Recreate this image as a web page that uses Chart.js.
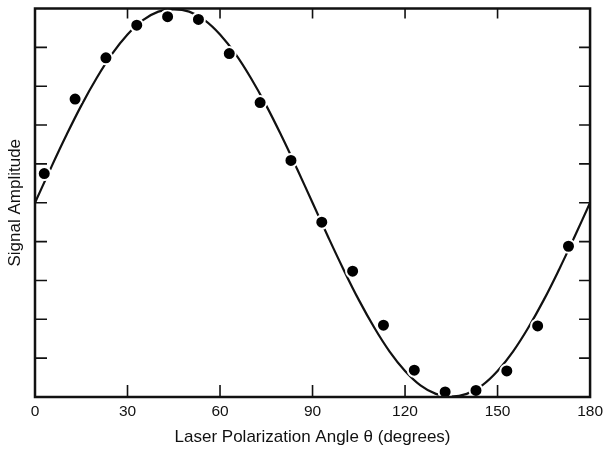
<!DOCTYPE html>
<html>
<head>
<meta charset="utf-8">
<script src="https://cdn.jsdelivr.net/npm/chart.js@4.4.1/dist/chart.umd.min.js"></script>
<style>
html,body{margin:0;padding:0;background:#fff;}
#c{display:block;}
</style>
</head>
<body>
<canvas id="c" width="608" height="451"></canvas>
<script>
// Measured data points (angle in degrees, signal amplitude in arbitrary units 0-10)
const pointAngles = [3, 13, 23, 33, 43, 53, 63, 73, 83, 93, 103, 113, 123, 133, 143, 153, 163, 173];
const pointValues = [5.75, 7.67, 8.73, 9.57, 9.79, 9.72, 8.84, 7.58, 6.09, 4.50, 3.24, 1.85, 0.69, 0.13, 0.17, 0.67, 1.83, 3.88];

// Fitted curve
const curveAngles = [0, 5, 10, 15, 20, 25, 30, 35, 40, 45, 50, 55, 60, 65, 70, 75, 80, 85, 90,
  95, 100, 105, 110, 115, 120, 125, 130, 135, 140, 145, 150, 155, 160, 165, 170, 175, 180];
const curveValues = [5.00, 5.87, 6.71, 7.50, 8.21, 8.83, 9.33, 9.70, 9.92, 9.98, 9.92, 9.70, 9.33, 8.83, 8.21, 7.50, 6.71, 5.87, 5.00,
  4.13, 3.29, 2.50, 1.79, 1.17, 0.67, 0.30, 0.08, 0.01, 0.08, 0.30, 0.67, 1.17, 1.79, 2.50, 3.29, 4.13, 5.00];

const xTicks = [0, 30, 60, 90, 120, 150, 180];
const yTicks = [0, 1, 2, 3, 4, 5, 6, 7, 8, 9, 10];

const xTitle = 'Laser Polarization Angle θ (degrees)';
const yTitle = 'Signal Amplitude';

const FONT = 'Liberation Sans, Arial, sans-serif';

const framePlugin = {
  id: 'frame',
  afterDatasetsDraw(chart) {
    const ctx = chart.ctx;
    const a = chart.chartArea;
    const xs = chart.scales.x, ys = chart.scales.y;
    ctx.save();
    ctx.strokeStyle = '#111';
    ctx.lineWidth = 2.5;
    ctx.strokeRect(a.left, a.top, a.right - a.left, a.bottom - a.top);
    ctx.lineWidth = 1.6;
    ctx.beginPath();
    xTicks.slice(1, -1).forEach(v => {
      const px = xs.getPixelForValue(v);
      ctx.moveTo(px, a.bottom); ctx.lineTo(px, a.bottom - 12);
      ctx.moveTo(px, a.top); ctx.lineTo(px, a.top + 10);
    });
    yTicks.slice(1, -1).forEach(v => {
      const py = ys.getPixelForValue(v);
      ctx.moveTo(a.left, py); ctx.lineTo(a.left + 12, py);
      ctx.moveTo(a.right, py); ctx.lineTo(a.right - 11, py);
    });
    ctx.stroke();
    ctx.restore();
  }
};

new Chart(document.getElementById('c'), {
  type: 'scatter',
  data: {
    datasets: [
      {
        label: 'Fit',
        data: curveAngles.map((x, i) => ({x, y: curveValues[i]})),
        showLine: true,
        borderColor: '#111',
        borderWidth: 2.2,
        pointRadius: 0,
        tension: 0.4,
        clip: false,
        order: 2
      },
      {
        label: 'Data',
        data: pointAngles.map((x, i) => ({x, y: pointValues[i]})),
        showLine: false,
        backgroundColor: '#000',
        borderColor: '#fff',
        borderWidth: 2,
        pointRadius: 6.5,
        clip: false,
        order: 1
      }
    ]
  },
  options: {
    responsive: false,
    animation: false,
    layout: { padding: { top: 7, right: 16, left: 0, bottom: 0 } },
    plugins: { legend: { display: false }, tooltip: { enabled: false } },
    scales: {
      x: {
        type: 'linear',
        min: 0, max: 180,
        afterBuildTicks: s => { s.ticks = xTicks.map(v => ({value: v})); },
        afterFit: s => { s.height = 54; },
        grid: { display: false, drawTicks: false },
        border: { display: false },
        ticks: { color: '#111', padding: 5, font: { family: FONT, size: 15.5 }, maxRotation: 0 },
        title: { display: true, text: xTitle, color: '#111', font: { family: FONT, size: 17 }, padding: { top: 0, bottom: 3 } }
      },
      y: {
        type: 'linear',
        min: 0, max: 10,
        afterBuildTicks: s => { s.ticks = yTicks.map(v => ({value: v})); },
        afterFit: s => { s.width = 35; },
        grid: { display: false, drawTicks: false },
        border: { display: false },
        ticks: { display: false },
        title: { display: true, text: yTitle, color: '#111', font: { family: FONT, size: 17 }, padding: { top: 5, bottom: 0 } }
      }
    }
  },
  plugins: [framePlugin]
});
</script>
</body>
</html>
